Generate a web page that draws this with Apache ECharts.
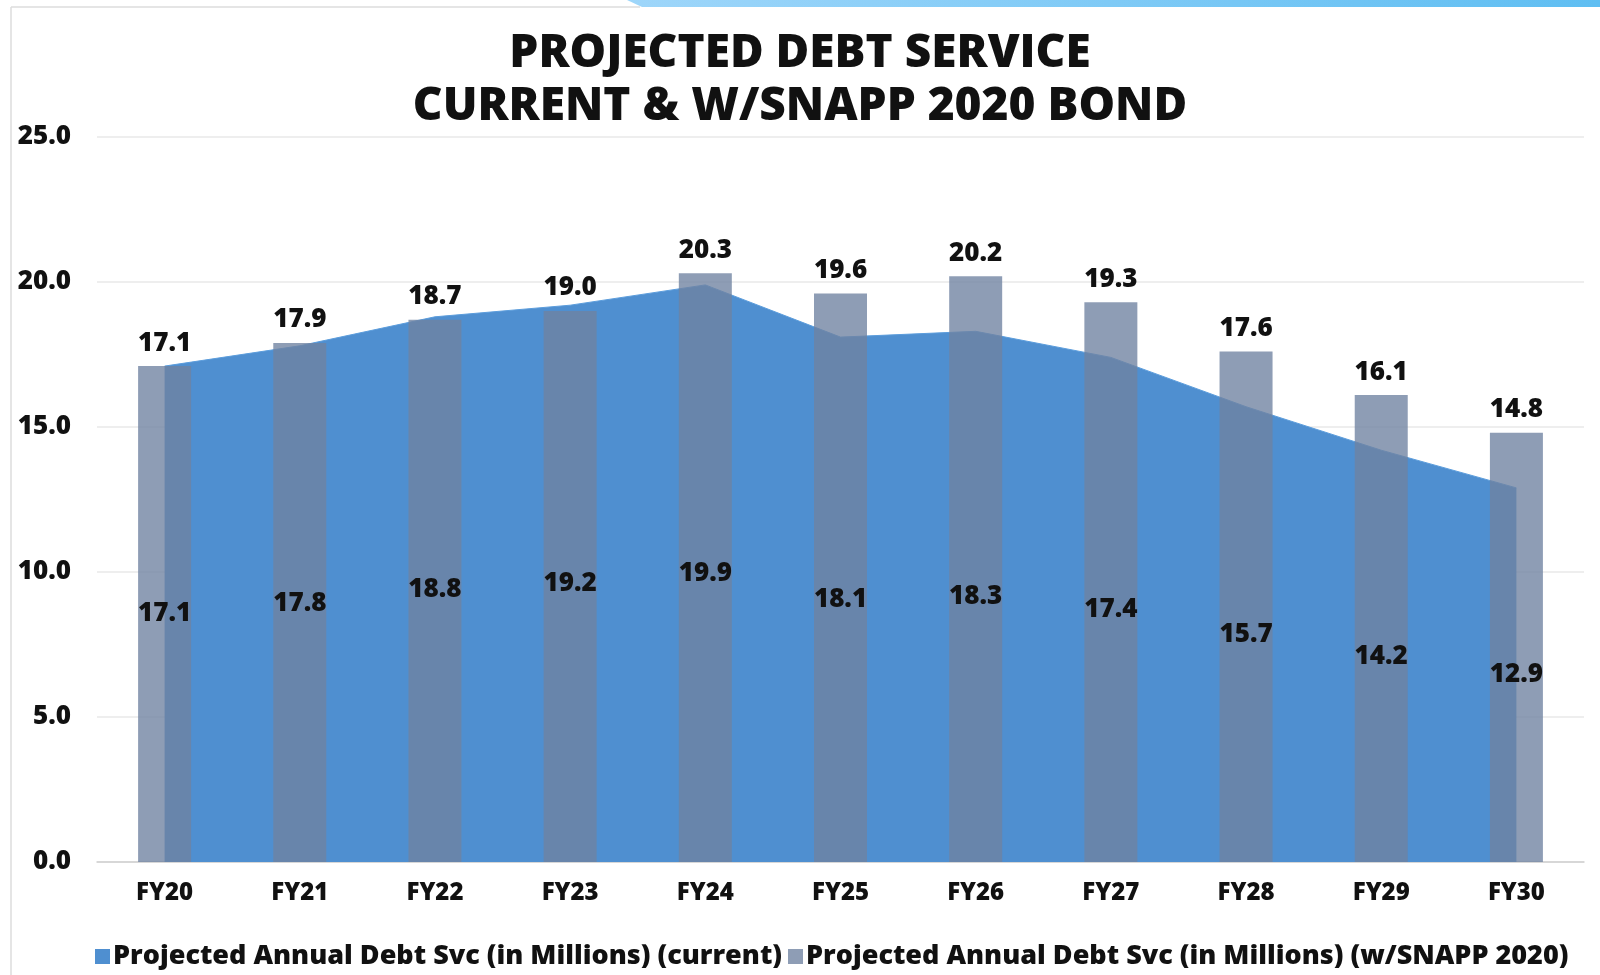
<!DOCTYPE html>
<html>
<head>
<meta charset="utf-8">
<script src="https://cdn.jsdelivr.net/npm/echarts@6/dist/echarts.min.js"></script>
<style>
html,body{margin:0;padding:0;background:#fff;}
#chart{width:1600px;height:975px;}
</style>
</head>
<body>
<div id="chart"></div>
<script>
const categories = ['FY20','FY21','FY22','FY23','FY24','FY25','FY26','FY27','FY28','FY29','FY30'];
const currentValues = [17.1,17.8,18.8,19.2,19.9,18.1,18.3,17.4,15.7,14.2,12.9];
const snappValues = [17.1,17.9,18.7,19.0,20.3,19.6,20.2,19.3,17.6,16.1,14.8];
const seriesNames = ['Projected Annual Debt Svc (in Millions) (current)','Projected Annual Debt Svc (in Millions) (w/SNAPP 2020)'];
const titleText = 'PROJECTED DEBT SERVICE\nCURRENT & W/SNAPP 2020 BOND';

const FONT = '"Open Sans", Lato, sans-serif';
const W = 800;
const chart = echarts.init(document.getElementById('chart'));
chart.setOption({
  animation: false,
  backgroundColor: '#ffffff',
  color: ['#4F8FD0', 'rgba(112,131,161,0.79)'],
  title: {
    text: titleText,
    left: 'center',
    top: 22,
    textStyle: {fontFamily: FONT, fontWeight: W, fontSize: 46, lineHeight: 53, color: '#111'}
  },
  graphic: [
    {type: 'line', shape: {x1: 11, y1: 7, x2: 11, y2: 975}, style: {stroke: '#dddddd', lineWidth: 1.5}},
    {type: 'line', shape: {x1: 11, y1: 7, x2: 640, y2: 7}, style: {stroke: '#dddddd', lineWidth: 1.5}},
    {type: 'polygon', shape: {points: [[627,0],[1600,0],[1600,7],[642,7]]},
      style: {fill: new echarts.graphic.LinearGradient(0,0,1,0,[{offset:0,color:'#9ED6FA'},{offset:1,color:'#5FBEF2'}])}}
  ],
  legend: {
    data: seriesNames,
    left: 90,
    top: 938,
    icon: 'rect',
    itemWidth: 15,
    itemHeight: 15,
    itemGap: 6,
    textStyle: {fontFamily: FONT, fontWeight: W, fontSize: 27, color: '#111', padding: [0,0,0,-2]}
  },
  grid: {left: 97, right: 16, top: 137, bottom: 113, containLabel: false},
  xAxis: {
    type: 'category',
    data: categories,
    boundaryGap: true,
    axisLine: {lineStyle: {color: '#d0d0d0', width: 1.5}},
    axisTick: {show: false},
    axisLabel: {fontFamily: FONT, fontWeight: W, fontSize: 24, color: '#111', margin: 19}
  },
  yAxis: {
    type: 'value',
    min: 0, max: 25, interval: 5,
    axisLine: {show: false},
    axisTick: {show: false},
    splitLine: {lineStyle: {color: '#e8e8e8', width: 1.5}},
    axisLabel: {fontFamily: FONT, fontWeight: W, fontSize: 26, color: '#111', margin: 26,
      formatter: v => v.toFixed(1)}
  },
  series: [
    {
      name: seriesNames[0],
      type: 'line',
      data: currentValues,
      symbol: 'none',
      lineStyle: {width: 1, color: '#5C9DDC'},
      areaStyle: {color: '#4F8FD0', opacity: 1},
      z: 1
    },
    {
      name: seriesNames[1],
      type: 'bar',
      data: snappValues,
      barWidth: 53,
      barGap: '-100%',
      itemStyle: {color: 'rgba(112,131,161,0.79)'},
      label: {show: true, position: 'top', distance: 10, fontFamily: FONT, fontWeight: W, fontSize: 26, color: '#111',
        formatter: p => p.value.toFixed(1)},
      z: 2
    },
    {
      name: 'currentLabels',
      type: 'bar',
      data: currentValues,
      barWidth: 53,
      barGap: '-100%',
      itemStyle: {color: 'rgba(0,0,0,0)'},
      label: {show: true, position: 'inside', fontFamily: FONT, fontWeight: W, fontSize: 26, color: '#111',
        formatter: p => p.value.toFixed(1)},
      emphasis: {disabled: true},
      z: 3
    }
  ]
});
</script>
</body>
</html>
